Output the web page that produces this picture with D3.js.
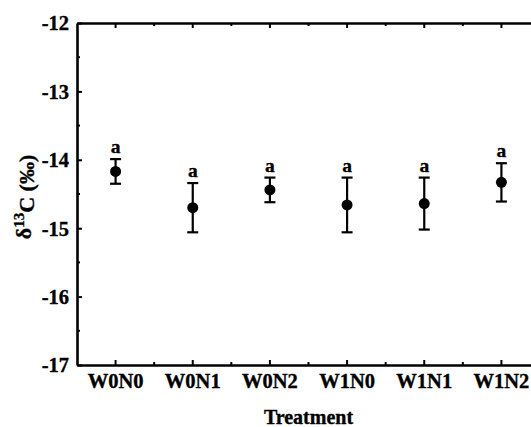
<!DOCTYPE html>
<html>
<head>
<meta charset="utf-8">
<script src="https://cdn.jsdelivr.net/npm/d3@7"></script>
<style>
  body { margin: 0; background: #fff; }
  text { font-family: "Liberation Serif", "Times New Roman", serif; font-weight: bold; fill: #000; stroke: #000; stroke-width: 0.35px; }
</style>
</head>
<body>
<div id="chart"></div>
<script>
const categories = ["W0N0", "W0N1", "W0N2", "W1N0", "W1N1", "W1N2"];
const means = [-14.17, -14.70, -14.44, -14.66, -14.64, -14.33];
const errors = [0.18, 0.36, 0.18, 0.40, 0.38, 0.28];
const letters = ["a", "a", "a", "a", "a", "a"];
const yTicks = [-17, -16, -15, -14, -13, -12];

const width = 531, height = 427;
const margin = { top: 23, left: 77, bottom: 62 };
const plotRight = 540; // the frame runs past the window edge

const svg = d3.select("#chart").append("svg")
    .attr("width", width)
    .attr("height", height);

const x = d3.scaleBand()
    .domain(categories)
    .range([margin.left, plotRight])
    .padding(0);

const y = d3.scaleLinear()
    .domain([-17, -12])
    .range([height - margin.bottom, margin.top]);

const cx = d => x(d) + x.bandwidth() / 2;
const bottomY = height - margin.bottom;

// minor tick positions
const xMinor = categories.slice(1).map(c => x(c));
const yMinor = d3.range(-16.5, -12, 1);

// bottom axis with labels, ticks inward
const gx = svg.append("g")
    .attr("transform", `translate(0,${bottomY})`)
    .call(d3.axisBottom(x).tickSizeInner(-5).tickSizeOuter(0).tickPadding(8));
gx.selectAll("text").style("font-size", "20.5px");

// top axis, ticks only
const gxTop = svg.append("g")
    .attr("transform", `translate(0,${margin.top})`)
    .call(d3.axisTop(x).tickSizeInner(-5).tickSizeOuter(0).tickFormat(""));

// left axis, plain hyphen for minus like the original
const gy = svg.append("g")
    .attr("transform", `translate(${margin.left},0)`)
    .call(d3.axisLeft(y).tickValues(yTicks).tickSizeInner(-5).tickSizeOuter(0).tickPadding(8)
        .tickFormat(d => String(d)));
gy.selectAll("text").style("font-size", "20.5px").attr("dy", "0.34em");

// right axis (outside the window)
const gyR = svg.append("g")
    .attr("transform", `translate(${plotRight},0)`)
    .call(d3.axisRight(y).tickValues(yTicks).tickSizeInner(-5).tickSizeOuter(0).tickFormat(""));

[gx, gxTop, gy, gyR].forEach(g => {
    g.select(".domain").attr("stroke-width", 2.6);
    g.selectAll(".tick line").attr("stroke-width", 2);
});

// minor ticks
svg.append("g").selectAll("line").data(xMinor).join("line")
    .attr("x1", d => d).attr("x2", d => d)
    .attr("y1", bottomY).attr("y2", bottomY - 3)
    .attr("stroke", "#000").attr("stroke-width", 2);
svg.append("g").selectAll("line").data(xMinor).join("line")
    .attr("x1", d => d).attr("x2", d => d)
    .attr("y1", margin.top).attr("y2", margin.top + 3)
    .attr("stroke", "#000").attr("stroke-width", 2);
svg.append("g").selectAll("line").data(yMinor).join("line")
    .attr("x1", margin.left).attr("x2", margin.left + 3)
    .attr("y1", d => y(d)).attr("y2", d => y(d))
    .attr("stroke", "#000").attr("stroke-width", 2);

// error bars
const pts = categories.map((c, i) => ({ c, m: means[i], e: errors[i], l: letters[i] }));
const bars = svg.append("g").selectAll("g").data(pts).join("g");
bars.append("line")
    .attr("x1", d => cx(d.c)).attr("x2", d => cx(d.c))
    .attr("y1", d => y(d.m + d.e)).attr("y2", d => y(d.m - d.e))
    .attr("stroke", "#000").attr("stroke-width", 2.2);
bars.append("line")
    .attr("x1", d => cx(d.c) - 5.5).attr("x2", d => cx(d.c) + 5.5)
    .attr("y1", d => y(d.m + d.e)).attr("y2", d => y(d.m + d.e))
    .attr("stroke", "#000").attr("stroke-width", 2.2);
bars.append("line")
    .attr("x1", d => cx(d.c) - 5.5).attr("x2", d => cx(d.c) + 5.5)
    .attr("y1", d => y(d.m - d.e)).attr("y2", d => y(d.m - d.e))
    .attr("stroke", "#000").attr("stroke-width", 2.2);
bars.append("circle")
    .attr("cx", d => cx(d.c)).attr("cy", d => y(d.m))
    .attr("r", 5.5).attr("fill", "#000");
bars.append("text")
    .attr("x", d => cx(d.c)).attr("y", d => y(d.m + d.e) - 6)
    .attr("text-anchor", "middle")
    .style("font-size", "19.5px")
    .text(d => d.l);

// axis titles
svg.append("text")
    .attr("x", (margin.left + plotRight) / 2)
    .attr("y", 424)
    .attr("text-anchor", "middle")
    .style("font-size", "20px")
    .text("Treatment");

const yt = svg.append("text")
    .attr("transform", "translate(31,197) rotate(-90)")
    .attr("text-anchor", "middle")
    .style("font-size", "22px");
yt.append("tspan").text("δ");
yt.append("tspan").attr("dy", "-0.45em").style("font-size", "15px").text("13");
yt.append("tspan").attr("dy", "0.45em").text("C (‰)");
</script>
</body>
</html>
